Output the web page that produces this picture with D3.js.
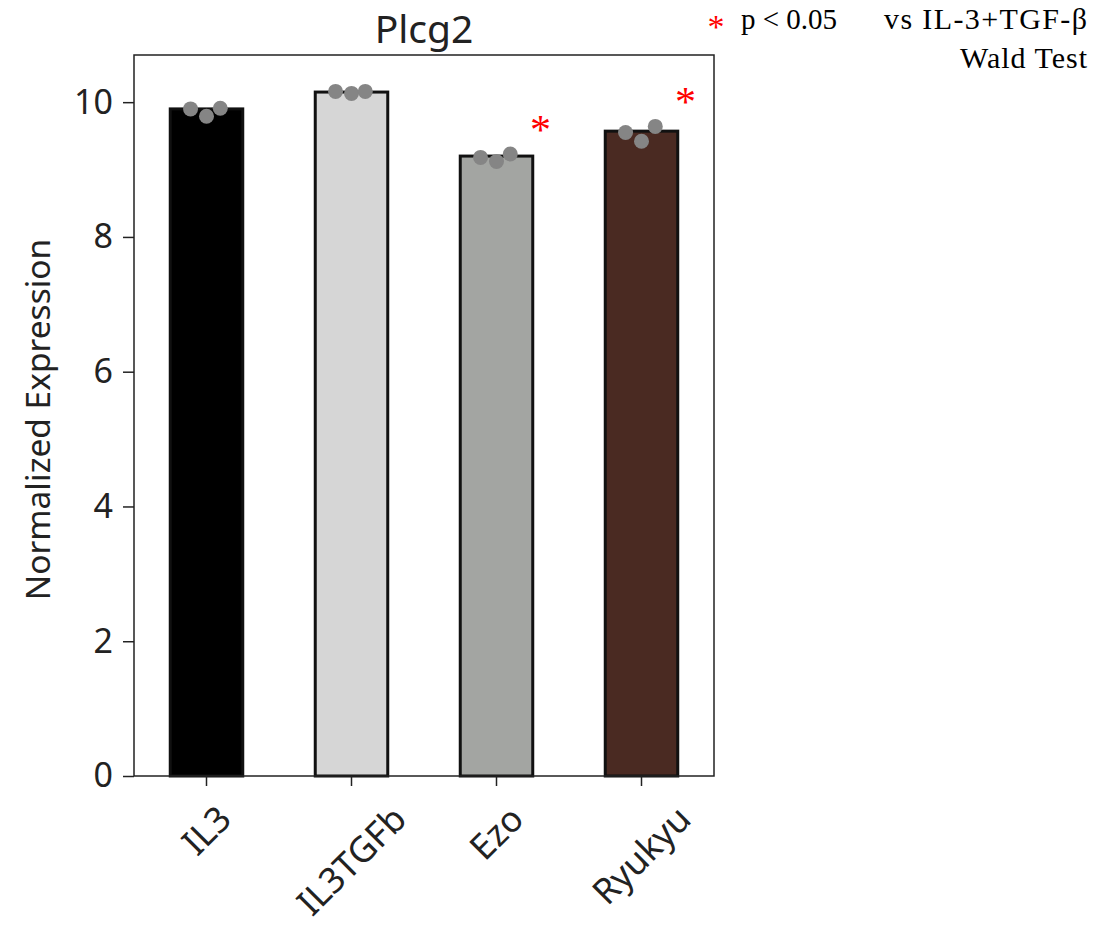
<!DOCTYPE html>
<html><head><meta charset="utf-8">
<script src="https://cdn.jsdelivr.net/npm/d3@7"></script>
<style>html,body{margin:0;padding:0;background:#fff;}</style>
</head><body>
<svg id="c" width="1094" height="925"></svg>
<script>
const categories = ["IL3", "IL3TGFb", "Ezo", "Ryukyu"];
const means = [9.90, 10.15, 9.20, 9.57];
const replicates = [
  [9.90, 9.79, 9.91],
  [10.16, 10.13, 10.16],
  [9.18, 9.12, 9.23],
  [9.55, 9.42, 9.64]
];
const significant = [false, false, true, true];
const barColors = ["#000000", "#d6d6d6", "#a3a5a2", "#4a2a22"];
const yTicks = [0, 2, 4, 6, 8, 10];
const title = "Plcg2";
const yLabel = "Normalized Expression";

const svg = d3.select("#c");
const m = {l: 134, r: 714, t: 55, b: 776};
const x = d3.scaleBand().domain(categories).range([m.l, m.r]).paddingInner(0.5).paddingOuter(0.25);
const y = d3.scaleLinear().domain([0, 10.7]).range([m.b, m.t]);
const sans = "'Noto Sans', sans-serif";
const fs = 34;
const fsx = 35.5;

// bars
svg.append("g").selectAll("rect").data(categories).join("rect")
  .attr("x", d => x(d)).attr("width", x.bandwidth())
  .attr("y", (d, i) => y(means[i])).attr("height", (d, i) => y(0) - y(means[i]))
  .attr("fill", (d, i) => barColors[i]).attr("stroke", "#111").attr("stroke-width", 3);

// points
const jit = [-0.22, 0.0, 0.19];
const pts = [];
replicates.forEach((arr, i) => arr.forEach((v, j) => pts.push({c: categories[i], v, j})));
svg.append("g").selectAll("circle").data(pts).join("circle")
  .attr("cx", d => x(d.c) + x.bandwidth() / 2 + jit[d.j] * x.bandwidth())
  .attr("cy", d => y(d.v)).attr("r", 7.5).attr("fill", "#858585");

// asterisks
svg.append("g").selectAll("text").data(categories.filter((d, i) => significant[i])).join("text")
  .attr("x", d => x(d) + x.bandwidth() / 2 + 44)
  .attr("y", d => y(d3.max(replicates[categories.indexOf(d)])) - 10)
  .attr("text-anchor", "middle").attr("fill", "#ff0000")
  .attr("font-family", "'Liberation Serif', serif").attr("font-size", 42).text("*");

// axes
const ya = svg.append("g").attr("transform", `translate(${m.l},0)`)
  .call(d3.axisLeft(y).tickValues(yTicks).tickSize(11).tickPadding(10).tickFormat(d3.format("d")));
ya.select(".domain").remove();
ya.selectAll("line").attr("stroke", "#222").attr("stroke-width", 1.5);
ya.selectAll("text").attr("font-family", sans).attr("font-size", fs).attr("fill", "#222");

const xa = svg.append("g").attr("transform", `translate(0,${m.b})`)
  .call(d3.axisBottom(x).tickSize(10).tickPadding(6));
xa.select(".domain").remove();
xa.selectAll("line").attr("stroke", "#222").attr("stroke-width", 1.5);
xa.selectAll("text").attr("font-family", sans).attr("font-size", fsx).attr("fill", "#222")
  .attr("text-anchor", "middle").attr("y", 0).attr("dy", "0.35em")
  .each(function() {
    const L = this.getComputedTextLength();
    const h = fsx * 0.75;
    const ext = (L + h) / Math.SQRT2;
    d3.select(this).attr("transform", `translate(0,${27 + ext / 2}) rotate(-45)`);
  });

// frame
svg.append("rect").attr("x", m.l).attr("y", m.t).attr("width", m.r - m.l).attr("height", m.b - m.t)
  .attr("fill", "none").attr("stroke", "#222").attr("stroke-width", 1.5);

// title & y label
svg.append("text").attr("x", (m.l + m.r) / 2).attr("y", 43).attr("text-anchor", "middle")
  .attr("font-family", sans).attr("font-size", 39).attr("fill", "#222").text(title);
svg.append("text").attr("transform", `translate(50,${(m.t + m.b) / 2 + 4}) rotate(-90)`)
  .attr("text-anchor", "middle").attr("font-family", sans).attr("font-size", 33.5)
  .attr("fill", "#222").text(yLabel);

// legend
const serif = "'Liberation Serif', 'Times New Roman', serif";
svg.append("text").attr("x", 716).attr("y", 38).attr("text-anchor", "middle").attr("fill", "#ff0000")
  .attr("font-family", serif).attr("font-size", 34).text("*");
svg.append("text").attr("x", 741).attr("y", 29).attr("font-family", serif).attr("font-size", 29)
  .attr("fill", "#000").text("p < 0.05");
svg.append("text").attr("x", 884).attr("y", 29).attr("font-family", serif)
  .attr("font-size", 30).attr("fill", "#000").attr("textLength", 203).attr("lengthAdjust", "spacing")
  .text("vs IL-3+TGF-β");
svg.append("text").attr("x", 960).attr("y", 68).attr("font-family", serif)
  .attr("font-size", 30).attr("fill", "#000").attr("textLength", 127).attr("lengthAdjust", "spacing")
  .text("Wald Test");
</script>
</body></html>
